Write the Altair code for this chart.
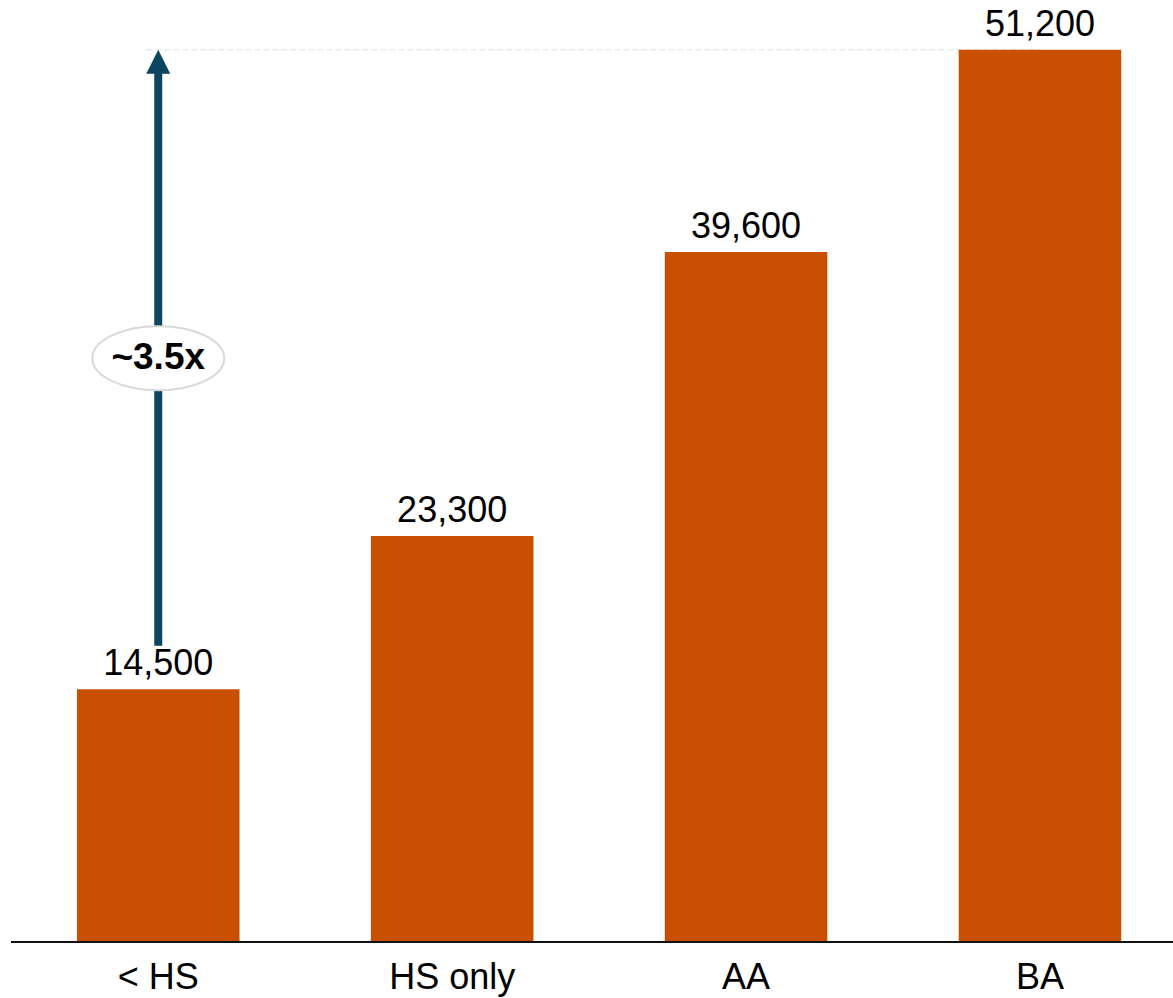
import altair as alt
import pandas as pd

# Bars
categories = ["< HS", "HS only", "AA", "BA"]
values = [14500, 23300, 39600, 51200]
labels = ["14,500", "23,300", "39,600", "51,200"]

# Growth annotation: arrow rising from the lowest bar to the level of the top bar
arrow_cat = "< HS"
arrow_bottom = 17000
arrow_shaft_top = 50200
arrow_tip = 51200
multiple_label = "~3.5x"
multiple_y = 33500
ref_line_end = "BA"

BAR_COLOR = "#C85000"
ARROW_COLOR = "#0B4661"
FONT = "Liberation Sans"

bars_df = pd.DataFrame({"cat": categories, "value": values, "label": labels})
ref_df = pd.DataFrame({"cat": [arrow_cat], "cat2": [ref_line_end], "value": [arrow_tip]})
shaft_df = pd.DataFrame({"cat": [arrow_cat], "y1": [arrow_bottom], "y2": [arrow_shaft_top]})
tip_df = pd.DataFrame({"cat": [arrow_cat], "value": [arrow_tip]})
badge_df = pd.DataFrame({"cat": [arrow_cat], "value": [multiple_y], "label": [multiple_label]})

x_scale = alt.Scale(domain=categories, paddingInner=0.447, paddingOuter=0.219, align=0.598)
y_scale = alt.Scale(domain=[0, 54000], nice=False, zero=True)

x_enc = alt.X(
    "cat:N",
    scale=x_scale,
    sort=categories,
    axis=alt.Axis(
        title=None,
        domain=False,
        ticks=False,
        tickSize=0,
        grid=False,
        labelAngle=0,
        labelAlign="center",
        labelFont=FONT,
        labelFontSize=36,
        labelColor="#000000",
        labelPadding=46,
        labelBaseline="alphabetic",
    ),
)

# dashed reference line at the top bar's level
ref_line = alt.Chart(ref_df).mark_rule(
    color="#dddddd", strokeWidth=1, strokeDash=[6, 3], xOffset=-12
).encode(
    x=alt.X("cat:N", scale=x_scale),
    x2="cat2:N",
    y=alt.Y("value:Q", scale=y_scale, axis=None),
)

bars = alt.Chart(bars_df).mark_bar(color=BAR_COLOR).encode(
    x=x_enc,
    y=alt.Y("value:Q", scale=y_scale, axis=None),
)

value_labels = alt.Chart(bars_df).mark_text(
    font=FONT, fontSize=36, color="#000000", baseline="alphabetic", dy=-14
).encode(
    x=alt.X("cat:N", scale=x_scale),
    y=alt.Y("value:Q", scale=y_scale),
    text="label:N",
)

# x-axis baseline
baseline = alt.Chart(bars_df).mark_rule(color="#111111", strokeWidth=2).encode(
    x=alt.value(11),
    x2=alt.value(1173),
    y=alt.Y(datum=0, scale=y_scale),
)

shaft = alt.Chart(shaft_df).mark_rule(color=ARROW_COLOR, strokeWidth=8).encode(
    x=alt.X("cat:N", scale=x_scale),
    y=alt.Y("y1:Q", scale=y_scale),
    y2="y2:Q",
)

tip = alt.Chart(tip_df).mark_point(
    shape="M0,0L1,2L-1,2Z", size=576, filled=True, color=ARROW_COLOR, opacity=1, strokeWidth=0
).encode(
    x=alt.X("cat:N", scale=x_scale),
    y=alt.Y("value:Q", scale=y_scale),
)

badge = alt.Chart(badge_df).mark_point(
    shape="M-1,0A1,0.485,0,1,1,1,0A1,0.485,0,1,1,-1,0Z",
    size=132 * 132,
    filled=True,
    fill="#ffffff",
    stroke="#d9d9d9",
    strokeWidth=2,
    opacity=1,
    fillOpacity=1,
    strokeOpacity=1,
).encode(
    x=alt.X("cat:N", scale=x_scale),
    y=alt.Y("value:Q", scale=y_scale),
)

badge_text = alt.Chart(badge_df).mark_text(
    font=FONT, fontSize=37, fontWeight="bold", color="#000000", baseline="middle"
).encode(
    x=alt.X("cat:N", scale=x_scale),
    y=alt.Y("value:Q", scale=y_scale),
    text="label:N",
)

chart = alt.layer(
    ref_line, bars, value_labels, baseline, shaft, tip, badge, badge_text
).properties(
    width=1173,
    height=941,
    padding={"top": 1, "bottom": 56, "left": 0, "right": 0},
    autosize=alt.AutoSizeParams(type="none"),
    background="#ffffff",
).configure_view(stroke=None)

chart.save("out.html", embed_options={"renderer": "svg", "actions": False})
